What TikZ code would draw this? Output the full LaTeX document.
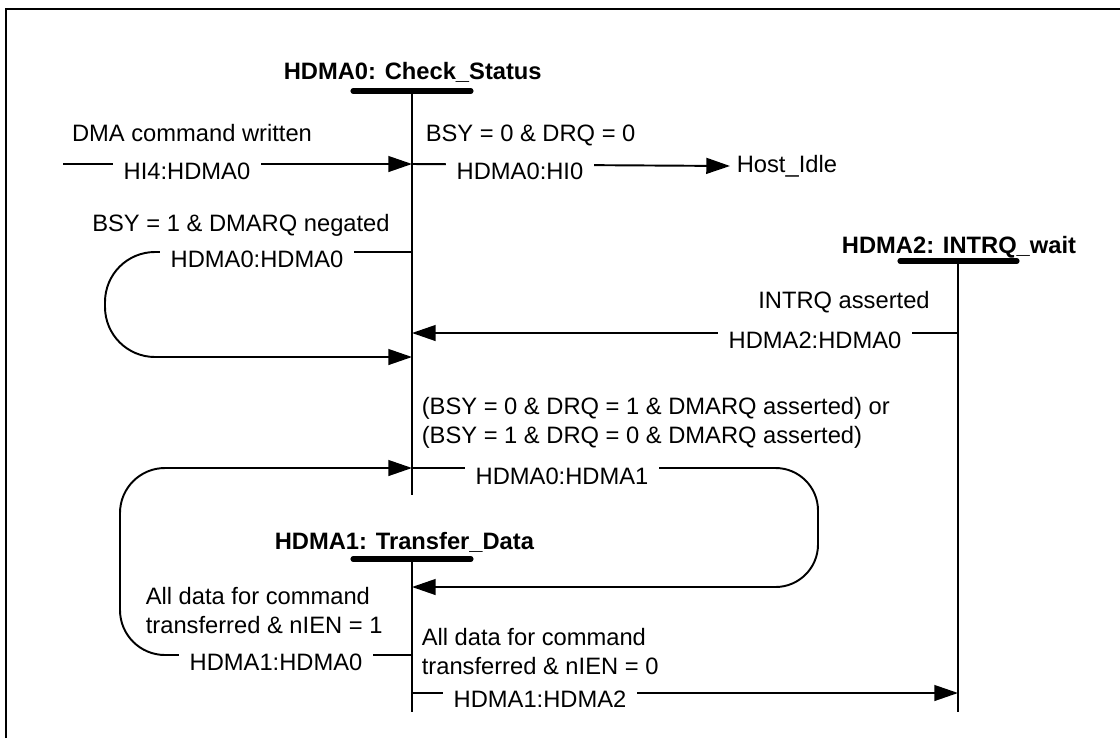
\documentclass[tikz,border=0pt]{standalone}
\usepackage{fontspec}
\setmainfont{Liberation Sans}
\usetikzlibrary{arrows.meta}

\begin{document}
\begin{tikzpicture}[
		x=0.02cm, y=-0.02cm,
		line width=1.1pt,
		>={Triangle[length=13.5pt,width=9pt]},
		every node/.style={font=\fontsize{13.5}{16.5}\selectfont},
		title/.style={font=\fontsize{13.5}{16.5}\selectfont\bfseries},
		statebar/.style={line width=2.9pt, line cap=round},
		trans/.style={fill=white, inner xsep=6pt, inner ysep=1pt},
		cond/.style={align=left}
	]

		\useasboundingbox (0,0) rectangle (1120,738);
		\draw[line width=1.7pt] (6,738) -- (6,9) -- (1120,9);

		% States
		\node[title, anchor=west] (check) at (277,72) {HDMA0: Check\_Status};
		\node[title] (intrq) at (959,247) {HDMA2: INTRQ\_wait};
		\node[title, anchor=west] (xfer) at (268,542) {HDMA1: Transfer\_Data};
		\node[anchor=west] (idle) at (730,166) {Host\_Idle};

		\coordinate (s0a) at (412,91);   \coordinate (s0b) at (412,495);
		\coordinate (s1a) at (412,559);  \coordinate (s1b) at (412,712);
		\coordinate (s2a) at (958,261);  \coordinate (s2b) at (958,712);
		\draw[statebar] (353,91) -- (471,91);
		\draw[statebar] (353,559) -- (471,559);
		\draw[statebar] (900,261) -- (1017,261);
		\draw (s0a) -- (s0b);
		\draw (s1a) -- (s1b);
		\draw (s2a) -- (s2b);

		% Transitions
		\coordinate (hi4) at (63,164);
		\coordinate (s0hi) at (412,164);
		\coordinate (s0loopout) at (412,252);
		\coordinate (s0loopin) at (412,357);
		\coordinate (s0intrq) at (412,333);
		\coordinate (s2out) at (958,333);
		\coordinate (s0x) at (412,468);
		\coordinate (s1in) at (412,587);
		\coordinate (s1out0) at (412,655);
		\coordinate (s1out2) at (412,693);
		\coordinate (s2in) at (958,693);

		\draw[->] (hi4) -- (s0hi);
		\draw[->] (s0hi) -- (idle.west);
		\draw[->, rounded corners=1cm] (s0loopout) -- (105,252) -- (105,357) -- (s0loopin);
		\draw[->] (s2out) -- (s0intrq);
		\draw[->, rounded corners=0.85cm] (s0x) -- (818,468) -- (818,587) -- (s1in);
		\draw[->, rounded corners=0.9cm] (s1out0) -- (120,655) -- (120,468) -- (s0x);
		\draw[->] (s1out2) -- (s2in);

		% Labels
		\node (c1) at (192,133) {DMA command written};
		\node[trans] (l1) at (187,171) {HI4:HDMA0};
		\node[anchor=west] (c2) at (419,135) {BSY = 0 \& DRQ = 0};
		\node[trans] (l2) at (520,171) {HDMA0:HI0};
		\node (c3) at (241,225) {BSY = 1 \& DMARQ negated};
		\node[trans] (l3) at (257,259) {HDMA0:HDMA0};
		\node (c4) at (844,302) {INTRQ asserted};
		\node[trans] (l4) at (815,340) {HDMA2:HDMA0};
		\node[cond, anchor=west] (c5) at (415,423) {(BSY = 0 \& DRQ = 1 \& DMARQ asserted) or\\(BSY = 1 \& DRQ = 0 \& DMARQ asserted)};
		\node[trans] (l5) at (562,476) {HDMA0:HDMA1};
		\node[cond, anchor=west] (c6) at (139,611) {All data for command\\transferred \& nIEN = 1};
		\node[trans] (l6) at (276,662) {HDMA1:HDMA0};
		\node[cond, anchor=west] (c7) at (415,652) {All data for command\\transferred \& nIEN = 0};
		\node[trans] (l7) at (540,699) {HDMA1:HDMA2};
	\end{tikzpicture}
\end{document}
